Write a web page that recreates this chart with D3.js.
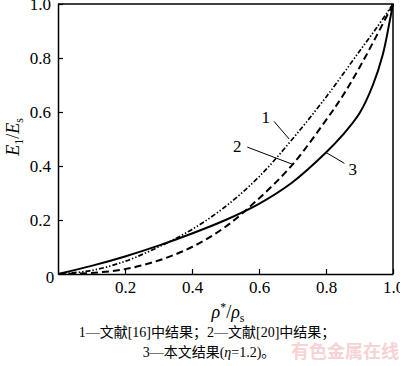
<!DOCTYPE html>
<html><head><meta charset="utf-8">
<script src="https://cdn.jsdelivr.net/npm/d3@7"></script>
<style>body{margin:0;background:#fff}svg{display:block}</style>
</head><body>
<svg id="c" width="400" height="366"></svg>
<script>
// Data
const rho1 = [0, 0.1, 0.2, 0.3, 0.4, 0.5, 0.6, 0.7, 0.8, 0.9, 0.95, 1.0];
const e1   = [0, 0.013, 0.047, 0.10, 0.165, 0.25, 0.36, 0.50, 0.655, 0.825, 0.91, 1.0];
const rho2 = [0, 0.1, 0.2, 0.3, 0.4, 0.5, 0.6, 0.7, 0.8, 0.85, 0.9, 0.95, 1.0];
const e2   = [0, 0.004, 0.018, 0.05, 0.10, 0.175, 0.28, 0.405, 0.57, 0.66, 0.765, 0.88, 1.0];
const rho3 = [0, 0.1, 0.2, 0.3, 0.4, 0.5, 0.6, 0.7, 0.8, 0.85, 0.9, 0.94, 0.97, 0.99, 1.0];
const e3   = [0, 0.03, 0.065, 0.105, 0.15, 0.20, 0.26, 0.34, 0.45, 0.515, 0.595, 0.70, 0.815, 0.935, 1.0];
const xTicks = [0.2, 0.4, 0.6, 0.8, 1.0];
const yTicks = [0.2, 0.4, 0.6, 0.8, 1.0];
const captionLine1 = "1—文献[16]中结果；2—文献[20]中结果；";
const watermark = "有色金属在线";

const svg = d3.select("#c");
const m = {l: 58, r: 7, t: 4, b: 92};
const W = 400 - m.l - m.r, H = 366 - m.t - m.b;
const x = d3.scaleLinear().domain([0, 1]).range([m.l, m.l + W]);
const y = d3.scaleLinear().domain([0, 1]).range([m.t + H, m.t]);
const font = "'Liberation Serif','Times New Roman',serif";

// frame (top/right)
svg.append("path")
  .attr("d", `M${x(0)},${y(1)}H${x(1)}V${y(0)}`)
  .attr("fill", "none").attr("stroke", "#000").attr("stroke-width", 1.5);

const gx = svg.append("g").attr("transform", `translate(0,${y(0)})`)
  .call(d3.axisBottom(x).tickValues(xTicks).tickFormat(d3.format(".1f"))
    .tickSizeInner(-5).tickSizeOuter(0).tickPadding(7));
const gy = svg.append("g").attr("transform", `translate(${x(0)},0)`)
  .call(d3.axisLeft(y).tickValues(yTicks).tickFormat(d3.format(".1f"))
    .tickSizeInner(-5).tickSizeOuter(0).tickPadding(7));
[gx, gy].forEach(g => {
  g.select(".domain").attr("stroke", "#000").attr("stroke-width", 1.5);
  g.selectAll(".tick line").attr("stroke", "#000").attr("stroke-width", 1.2);
  g.selectAll("text").attr("font-family", font).attr("font-size", 17).attr("fill", "#000");
});
svg.append("text").attr("x", x(0) - 8).attr("y", y(0) + 9)
  .attr("text-anchor", "middle").attr("font-family", font).attr("font-size", 17).text("0");

// curves
const line = d3.line().x(d => x(d[0])).y(d => y(d[1])).curve(d3.curveCatmullRom.alpha(0.5));
const series = [
  {r: rho1, e: e1, dash: "5,2,1.4,2,1.4,2", w: 1.7},
  {r: rho2, e: e2, dash: "7,4", w: 2},
  {r: rho3, e: e3, dash: null, w: 2}
];
series.forEach(s => {
  svg.append("path").datum(s.r.map((v, i) => [v, s.e[i]]))
    .attr("d", line).attr("fill", "none").attr("stroke", "#000")
    .attr("stroke-width", s.w).attr("stroke-dasharray", s.dash);
});

// curve labels with leaders
const labels = [
  {t: "1", tx: 0.62, ty: 0.58, a: [0.645, 0.565], b: [0.69, 0.5]},
  {t: "2", tx: 0.535, ty: 0.475, a: [0.565, 0.47], b: [0.703, 0.405]},
  {t: "3", tx: 0.88, ty: 0.39, a: [0.855, 0.41], b: [0.80, 0.45]}
];
labels.forEach(l => {
  svg.append("line").attr("x1", x(l.a[0])).attr("y1", y(l.a[1]))
    .attr("x2", x(l.b[0])).attr("y2", y(l.b[1])).attr("stroke", "#000").attr("stroke-width", 1);
  svg.append("text").attr("x", x(l.tx)).attr("y", y(l.ty)).attr("dy", "0.35em")
    .attr("text-anchor", "middle").attr("font-family", font).attr("font-size", 17).text(l.t);
});

// axis titles
const xt = svg.append("text").attr("x", 228).attr("y", 318).attr("text-anchor", "middle")
  .attr("font-family", font).attr("font-size", 18);
xt.append("tspan").attr("font-style", "italic").text("ρ");
xt.append("tspan").attr("font-size", 12).attr("dy", -7).text("*");
xt.append("tspan").attr("dy", 7).text("/");
xt.append("tspan").attr("font-style", "italic").text("ρ");
xt.append("tspan").attr("font-size", 12).attr("dy", 4).text("s");

const yt = svg.append("text").attr("transform", "translate(19,137) rotate(-90)")
  .attr("text-anchor", "middle").attr("font-family", font).attr("font-size", 18);
yt.append("tspan").attr("font-style", "italic").text("E");
yt.append("tspan").attr("font-size", 12).attr("dy", 4).text("1");
yt.append("tspan").attr("dy", -4).text("/");
yt.append("tspan").attr("font-style", "italic").text("E");
yt.append("tspan").attr("font-size", 12).attr("dy", 4).text("s");

// caption
const cfont = "'Liberation Serif','Noto Sans CJK SC',serif";
svg.append("text").attr("x", 207).attr("y", 337).attr("text-anchor", "middle")
  .attr("font-family", cfont).attr("font-size", 14).text(captionLine1);
const c2 = svg.append("text").attr("x", 209).attr("y", 357).attr("text-anchor", "middle")
  .attr("font-family", cfont).attr("font-size", 14);
c2.append("tspan").text("3—本文结果(");
c2.append("tspan").attr("font-style", "italic").text("η");
c2.append("tspan").text("=1.2)。");

svg.append("text").attr("x", 345).attr("y", 358).attr("text-anchor", "middle")
  .attr("font-family", "'Noto Sans CJK SC',sans-serif").attr("font-size", 18)
  .attr("font-weight", "bold").attr("fill", "#f6d3d4").text(watermark);
</script>
</body></html>
